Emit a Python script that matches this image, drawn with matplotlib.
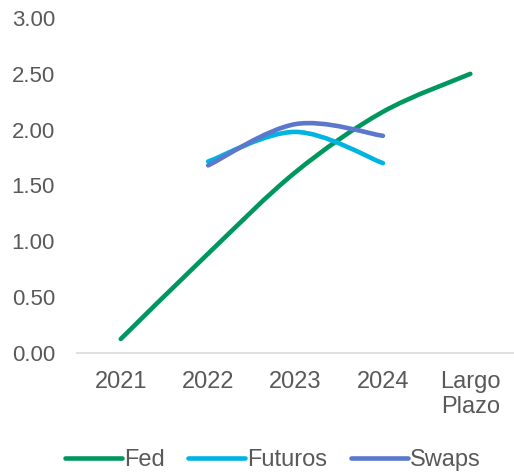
import matplotlib
matplotlib.use("Agg")
import matplotlib.pyplot as plt
from matplotlib.path import Path
from matplotlib.patches import PathPatch
from matplotlib.lines import Line2D

plt.rcParams['font.family'] = ['Liberation Sans', 'DejaVu Sans']

categories = ['2021', '2022', '2023', '2024', 'Largo\nPlazo']
fed = [0.125, 0.89, 1.62, 2.16, 2.50]
futuros = [None, 1.715, 1.98, 1.70, None]
swaps = [None, 1.68, 2.05, 1.945, None]

colors = {'Fed': '#00975F', 'Futuros': '#00B4E1', 'Swaps': '#5B78CC'}
grey = '#595959'


def smooth_path(xs, ys):
    # Excel-style smoothed line: cubic bezier with catmull-rom control points
    pts = list(zip(xs, ys))
    verts = [pts[0]]
    codes = [Path.MOVETO]
    n = len(pts)
    for i in range(n - 1):
        p0 = pts[i - 1] if i > 0 else pts[i]
        p1 = pts[i]
        p2 = pts[i + 1]
        p3 = pts[i + 2] if i + 2 < n else pts[i + 1]
        c1 = (p1[0] + (p2[0] - p0[0]) / 6, p1[1] + (p2[1] - p0[1]) / 6)
        c2 = (p2[0] - (p3[0] - p1[0]) / 6, p2[1] - (p3[1] - p1[1]) / 6)
        verts += [c1, c2, p2]
        codes += [Path.CURVE4] * 3
    return Path(verts, codes)


fig = plt.figure(figsize=(5.14, 4.75), dpi=100)
ax = fig.add_axes([0.15, 0.257, 0.85, 0.705])

handles = []
for name, vals in [('Fed', fed), ('Futuros', futuros), ('Swaps', swaps)]:
    xs = [i for i, v in enumerate(vals) if v is not None]
    ys = [v for v in vals if v is not None]
    patch = PathPatch(smooth_path(xs, ys), facecolor='none', edgecolor=colors[name],
                      lw=3.3, capstyle='round', joinstyle='round')
    ax.add_patch(patch)
    handles.append(Line2D([], [], color=colors[name], lw=3.3, solid_capstyle='round'))

ax.set_xlim(-0.5, 4.5)
ax.set_ylim(0, 3)
ax.set_xticks(range(len(categories)))
ax.set_xticklabels(categories, fontsize=17, color=grey, linespacing=1.15)
ax.set_yticks([0, 0.5, 1, 1.5, 2, 2.5, 3])
ax.set_yticklabels(['%.2f' % v for v in [0, 0.5, 1, 1.5, 2, 2.5, 3]], fontsize=16, color=grey)
ax.tick_params(axis='x', length=0, pad=13)
ax.tick_params(axis='y', length=0, pad=16)
for s in ['top', 'right', 'left']:
    ax.spines[s].set_visible(False)
ax.spines['bottom'].set_color('#D9D9D9')
ax.spines['bottom'].set_linewidth(1.2)

fig.legend(handles, ['Fed', 'Futuros', 'Swaps'], loc='center', bbox_to_anchor=(0.531, 0.032),
           ncol=3, frameon=False, fontsize=17, handlelength=2.4, handletextpad=0.1,
           columnspacing=1.0, labelcolor=grey, borderaxespad=0, borderpad=0)

fig.savefig('out.png', dpi=100)
